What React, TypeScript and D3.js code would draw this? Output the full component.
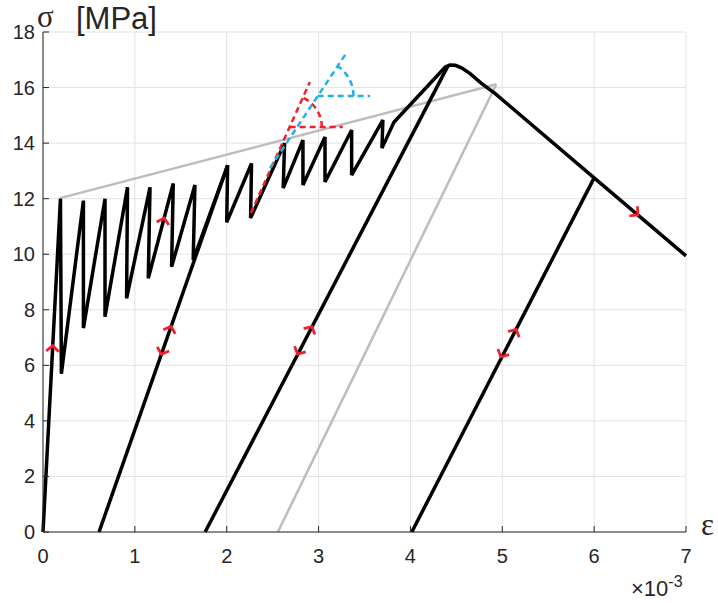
import * as d3 from "d3";

// strain in units of 1e-3, stress in MPa
const X_TICKS = [0, 1, 2, 3, 4, 5, 6, 7];
const Y_TICKS = [0, 2, 4, 6, 8, 10, 12, 14, 16, 18];

// main response: serrated pre-peak, peak, softening branch
const mainEps = [
  0, 0.19, 0.2, 0.44, 0.44, 0.675, 0.675, 0.92, 0.91, 1.165, 1.146, 1.418, 1.4, 1.654, 1.635,
  2.01, 2.0, 2.27, 2.26, 2.63, 2.615, 2.83, 2.83, 3.07, 3.07, 3.36, 3.36, 3.7, 3.69, 3.82,
  4.38, 4.43, 4.49, 4.56, 4.65, 4.77, 4.93, 6.0, 7.0,
];
const mainSig = [
  0, 12.0, 5.7, 11.93, 7.34, 12.0, 7.75, 12.41, 8.41, 12.41, 9.13, 12.55, 9.55, 12.49, 9.79,
  13.2, 11.15, 13.27, 11.3, 14.0, 12.38, 14.11, 12.49, 14.22, 12.6, 14.47, 12.85, 14.83, 13.82, 14.75,
  16.74, 16.81, 16.8, 16.7, 16.5, 16.16, 15.76, 12.75, 9.94,
];

// unloading / reloading branches
const unloadEps = [
  [0.61, 2.01],
  [1.765, 4.41],
  [4.015, 6.0],
];
const unloadSig = [
  [0, 13.2],
  [0, 16.79],
  [0, 12.75],
];

// gray envelope lines
const grayEps = [
  [0.185, 4.935],
  [2.557, 4.935],
];
const graySig = [
  [12.02, 16.12],
  [0, 16.12],
];

// tangent annotations (red, blue)
const redTanEps = [2.263, 2.905];
const redTanSig = [11.48, 16.2];
const redHorEps = [2.685, 3.264];
const redHorSig = 14.58;
const redArcR = 0.35;

const blueTanEps = [2.47, 3.31];
const blueTanSig = [13.1, 17.28];
const blueHorEps = [2.99, 3.56];
const blueHorSig = 15.7;
const blueArcR = 0.39;

// direction arrows: position and direction (in data units)
const arrowEps = [0.1045, 1.311, 1.384, 1.299, 2.912, 2.786, 5.136, 5.0, 6.45];
const arrowSig = [6.6, 11.2, 7.3, 6.5, 7.3, 6.5, 7.2, 6.4, 11.49];
const arrowDEps = [0.19, 0.272, 1.4, -1.4, 2.635, -2.635, 1.985, -1.985, 1.0];
const arrowDSig = [12, 3.42, 13.2, -13.2, 16.77, -16.77, 12.75, -12.75, -2.81];

const W = 718;
const H = 603;
const margin = { top: 32, right: 32, bottom: 71, left: 43 };

export default function App() {
  const x = d3.scaleLinear().domain([0, 7]).range([margin.left, W - margin.right]);
  const y = d3.scaleLinear().domain([0, 18]).range([H - margin.bottom, margin.top]);
  const line = d3
    .line<[number, number]>()
    .x((d) => x(d[0]))
    .y((d) => y(d[1]));

  const mainPath = line(mainEps.map((e, i) => [e, mainSig[i]])) ?? "";
  const red = "#f0212b";
  const blue = "#1fb0e8";
  const dash = "6 4";

  const arc = (cE: number, cS: number, rE: number, tE: number[], tS: number[]) => {
    const cx = x(cE);
    const cy = y(cS);
    const r = x(cE + rE) - x(cE);
    const ang = Math.atan2(y(tS[0]) - y(tS[1]), x(tE[1]) - x(tE[0]));
    const ex = cx + r * Math.cos(ang);
    const ey = cy - r * Math.sin(ang);
    return `M${cx + r},${cy} A${r},${r} 0 0 0 ${ex},${ey}`;
  };

  const arrows = arrowEps.map((e, i) => {
    const px = x(e);
    const py = y(arrowSig[i]);
    const dx = x(e + arrowDEps[i]) - x(e);
    const dy = y(arrowSig[i] + arrowDSig[i]) - y(arrowSig[i]);
    const a = Math.atan2(dy, dx);
    const L = 8.5;
    const spread = (132 * Math.PI) / 180;
    const tx = px + 3 * Math.cos(a);
    const ty = py + 3 * Math.sin(a);
    const p1 = [tx + L * Math.cos(a + spread), ty + L * Math.sin(a + spread)];
    const p2 = [tx + L * Math.cos(a - spread), ty + L * Math.sin(a - spread)];
    return `M${p1[0]},${p1[1]} L${tx},${ty} L${p2[0]},${p2[1]}`;
  });

  const x0 = margin.left;
  const y0 = H - margin.bottom;

  return (
    <div style={{ position: "absolute", left: 0, top: 0 }}>
      <svg width={W} height={H} style={{ display: "block", background: "#fff" }}>
        {/* grid */}
        {X_TICKS.map((t) => (
          <line key={"gx" + t} x1={x(t)} x2={x(t)} y1={y(0)} y2={y(18)} stroke="#e3e3e3" strokeWidth={1} />
        ))}
        {Y_TICKS.map((t) => (
          <line key={"gy" + t} x1={x(0)} x2={x(7)} y1={y(t)} y2={y(t)} stroke="#e3e3e3" strokeWidth={1} />
        ))}

        {/* gray lines */}
        {grayEps.map((ge, i) => (
          <path
            key={"g" + i}
            d={line([[ge[0], graySig[i][0]], [ge[1], graySig[i][1]]]) ?? ""}
            stroke="#bdbdbd"
            strokeWidth={2.5}
            fill="none"
          />
        ))}

        {/* black curves */}
        {unloadEps.map((ue, i) => (
          <path
            key={"u" + i}
            d={line([[ue[0], unloadSig[i][0]], [ue[1], unloadSig[i][1]]]) ?? ""}
            stroke="#000"
            strokeWidth={3.5}
            fill="none"
          />
        ))}
        <path d={mainPath} stroke="#000" strokeWidth={3.5} fill="none" strokeLinejoin="miter" strokeMiterlimit={3} />

        {/* tangent annotations */}
        <g fill="none" strokeWidth={2.5} strokeDasharray={dash}>
          <path d={line([[redTanEps[0], redTanSig[0]], [redTanEps[1], redTanSig[1]]]) ?? ""} stroke={red} />
          <path d={line([[redHorEps[0], redHorSig], [redHorEps[1], redHorSig]]) ?? ""} stroke={red} />
          <path d={arc(redHorEps[0], redHorSig, redArcR, redTanEps, redTanSig)} stroke={red} />
          <path d={line([[blueTanEps[0], blueTanSig[0]], [blueTanEps[1], blueTanSig[1]]]) ?? ""} stroke={blue} />
          <path d={line([[blueHorEps[0], blueHorSig], [blueHorEps[1], blueHorSig]]) ?? ""} stroke={blue} />
          <path d={arc(blueHorEps[0], blueHorSig, blueArcR, blueTanEps, blueTanSig)} stroke={blue} />
        </g>

        {/* arrows */}
        {arrows.map((d, i) => (
          <path key={"a" + i} d={d} stroke={red} strokeWidth={2.8} fill="none" />
        ))}

        {/* axes */}
        <line x1={x0} x2={x(7)} y1={y0} y2={y0} stroke="#262626" strokeWidth={1} />
        <line x1={x0} x2={x0} y1={y0} y2={y(18)} stroke="#262626" strokeWidth={1} />
        {X_TICKS.map((t) => (
          <g key={"xt" + t}>
            <line x1={x(t)} x2={x(t)} y1={y0} y2={y0 - 6} stroke="#262626" strokeWidth={1} />
            <text
              x={x(t)}
              y={y0 + 31}
              textAnchor="middle"
              fontFamily="Liberation Sans, Arial, sans-serif"
              fontSize={20}
              fill="#262626"
            >
              {t}
            </text>
          </g>
        ))}
        {Y_TICKS.map((t) => (
          <g key={"yt" + t}>
            <line x1={x0} x2={x0 + 6} y1={y(t)} y2={y(t)} stroke="#262626" strokeWidth={1} />
            <text
              x={x0 - 8}
              y={y(t)}
              dy="0.35em"
              textAnchor="end"
              fontFamily="Liberation Sans, Arial, sans-serif"
              fontSize={20}
              fill="#262626"
            >
              {t}
            </text>
          </g>
        ))}

        {/* labels */}
        <text x={37} y={27} fontFamily="Liberation Serif, serif" fontSize={31} fill="#262626">
          σ
        </text>
        <text x={76} y={29} fontFamily="Liberation Sans, Arial, sans-serif" fontSize={31} fill="#262626">
          [MPa]
        </text>
        <text x={701} y={535} fontFamily="Liberation Serif, serif" fontSize={31} fill="#262626">
          ε
        </text>
        <text x={631} y={596} fontFamily="Liberation Sans, Arial, sans-serif" fontSize={22} fill="#262626">
          ×10
          <tspan dy={-9} fontSize={16}>
            -3
          </tspan>
        </text>
      </svg>
    </div>
  );
}
